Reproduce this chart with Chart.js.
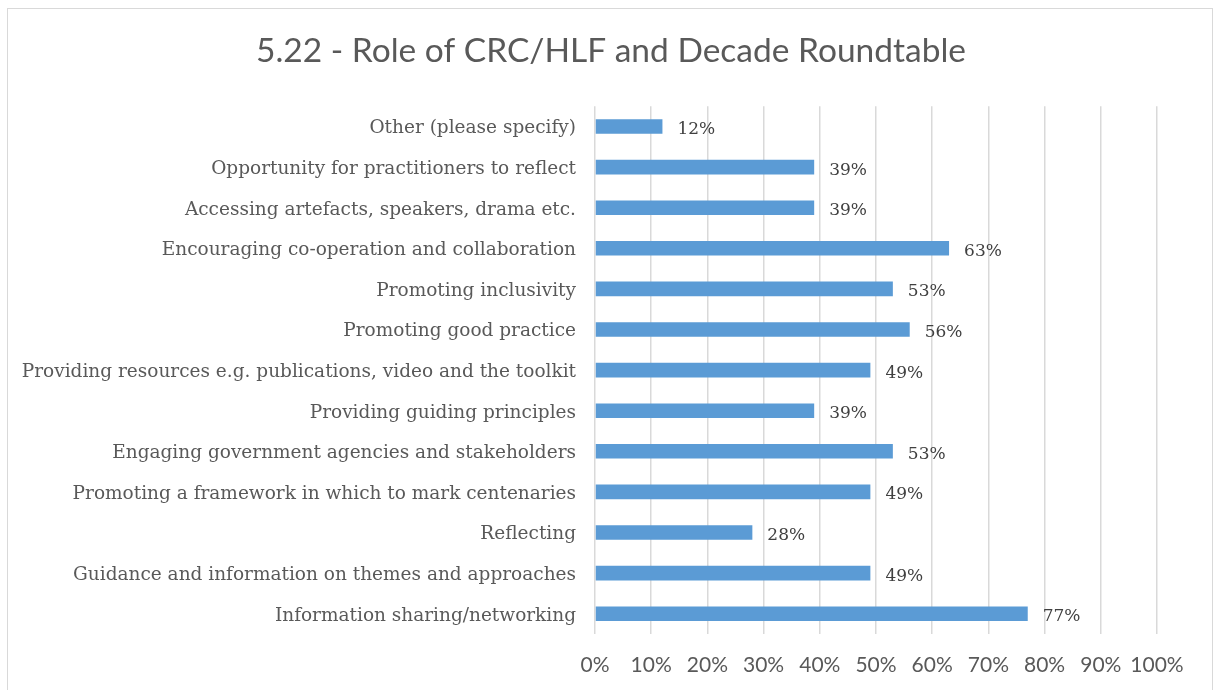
<!DOCTYPE html>
<html>
<head>
<meta charset="utf-8">
<script src="https://cdn.jsdelivr.net/npm/chart.js@4/dist/chart.umd.min.js"></script>
<style>
  html, body { margin: 0; padding: 0; background: #fff; }
  #wrap { position: relative; width: 1218px; height: 690px; }
  #frame { position: absolute; left: 7px; top: 8px; width: 1206px; height: 700px;
           border: 1px solid #d9d9d9; box-sizing: border-box; }
  canvas { position: absolute; left: 0; top: 0; }
</style>
</head>
<body>
<div id="wrap">
  <div id="frame"></div>
  <canvas id="roleChart" width="1218" height="690"></canvas>
</div>
<script>
// categories top to bottom, values in percent
const categories = [
  'Other (please specify)',
  'Opportunity for practitioners to reflect',
  'Accessing artefacts, speakers, drama etc.',
  'Encouraging co-operation and collaboration',
  'Promoting inclusivity',
  'Promoting good practice',
  'Providing resources e.g. publications, video and the toolkit',
  'Providing guiding principles',
  'Engaging government agencies and stakeholders',
  'Promoting a framework in which to mark centenaries',
  'Reflecting',
  'Guidance and information on themes and approaches',
  'Information sharing/networking'
];
const shares = [12, 39, 39, 63, 53, 56, 49, 39, 53, 49, 28, 49, 77];
const tickValues = [0, 10, 20, 30, 40, 50, 60, 70, 80, 90, 100];

// value labels to the right of each bar
const barLabels = {
  id: 'barLabels',
  afterDatasetsDraw(chart) {
    const ctx = chart.ctx;
    const meta = chart.getDatasetMeta(0);
    ctx.save();
    ctx.font = '17px "DejaVu Serif", serif';
    ctx.fillStyle = '#404040';
    ctx.textAlign = 'left';
    ctx.textBaseline = 'middle';
    meta.data.forEach((bar, i) => {
      ctx.fillText(shares[i] + '%', bar.x + 15, bar.y + 3);
    });
    ctx.restore();
  }
};

// the title sits centred on the frame, not on the padded area
const titleShift = {
  id: 'titleShift',
  afterLayout(chart) {
    if (chart.titleBlock) {
      chart.titleBlock.left = 65;
      chart.titleBlock.right = 1157;
    }
  }
};

new Chart(document.getElementById('roleChart').getContext('2d'), {
  type: 'bar',
  data: {
    labels: categories,
    datasets: [{
      data: shares,
      backgroundColor: '#5b9bd5',
      borderWidth: 0,
      barPercentage: 0.72,
      categoryPercentage: 0.5
    }]
  },
  options: {
    indexAxis: 'y',
    responsive: false,
    animation: false,
    layout: { padding: { left: 0, right: 61, top: 0, bottom: 0 } },
    plugins: {
      legend: { display: false },
      tooltip: { enabled: false },
      title: {
        display: true,
        text: '5.22 - Role of CRC/HLF and Decade Roundtable',
        color: '#595959',
        font: { family: 'Lato', size: 33.5, weight: 'normal' },
        padding: { top: 31, bottom: 35 }
      }
    },
    scales: {
      x: {
        min: 0,
        max: 100,
        afterBuildTicks(axis) { axis.ticks = tickValues.map(v => ({ value: v })); },
        afterFit(axis) { axis.height = 56; },
        ticks: {
          callback: v => v + '%',
          color: '#595959',
          font: { family: 'Lato', size: 21 },
          padding: 19,
          maxRotation: 0,
          autoSkip: false
        },
        grid: { color: '#d9d9d9', lineWidth: 1.5, drawTicks: false },
        border: { display: false }
      },
      y: {
        afterFit(axis) { axis.width = 595; },
        ticks: {
          color: '#595959',
          font: { family: 'DejaVu Serif', size: 18.5 },
          padding: 19,
          labelOffset: 2,
          autoSkip: false
        },
        grid: { display: false, drawTicks: false },
        border: { display: false }
      }
    }
  },
  plugins: [barLabels, titleShift]
});
</script>
</body>
</html>
